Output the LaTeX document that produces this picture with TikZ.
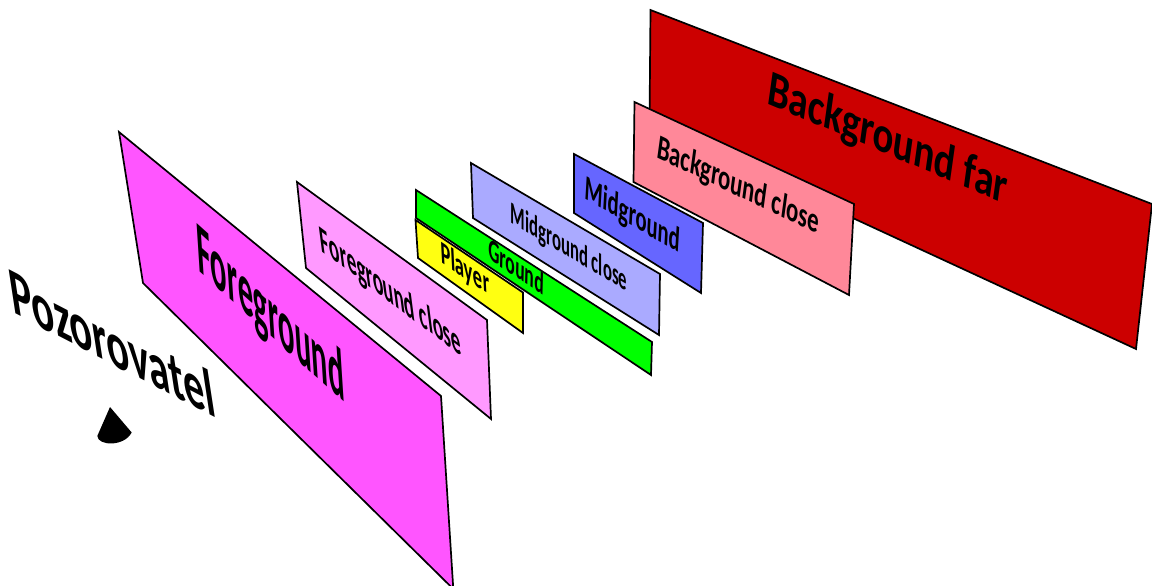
\documentclass[tikz,border=0pt]{standalone}
\usepackage{fontspec}
\setmainfont{Carlito}
\definecolor{farred}{HTML}{CC0000}
\definecolor{closered}{HTML}{FF8899}
\definecolor{midblue}{HTML}{6666FF}
\definecolor{closeblue}{HTML}{AAAAFF}
\definecolor{groundgreen}{HTML}{00FF00}
\definecolor{playeryellow}{HTML}{FFFF11}
\definecolor{closepink}{HTML}{FF99FF}
\definecolor{forepink}{HTML}{FF55FF}
\begin{document}
\begin{tikzpicture}
        [
        x=0.5pt, y=-0.5pt,
        plane/.style={draw=black, line width=0.85pt},
        layername/.style={inner sep=0pt, text height=12.9pt, text depth=0pt, font=\bfseries\fontsize{20}{24}\selectfont}
        ]

        \path[use as bounding box, clip] (0,0) rectangle (1152,585);

        \draw[plane, fill=farred] (650.5,10) -- (1152,204) -- (1136,349) -- (649.5,124) -- cycle;
        \draw[plane, fill=closered] (634.5,102) -- (854,204) -- (849,295) -- (633.5,182) -- cycle;
        \draw[plane, fill=midblue] (574,154) -- (703,223) -- (701,293) -- (574,213) -- cycle;
        \draw[plane, fill=closeblue] (471,163) -- (660,274) -- (659,335) -- (473,218) -- cycle;
        \draw[plane, fill=groundgreen] (416,190) -- (652,342) -- (651,375) -- (416,218) -- cycle;
        \draw[plane, fill=playeryellow] (415.5,220) -- (523,292.5) -- (523,333) -- (418,258) -- cycle;
        \draw[plane, fill=closepink] (297,182) -- (487,320) -- (491,419) -- (306,268) -- cycle;
        \draw[plane, fill=forepink] (119,132) -- (441,396) -- (453.3,589) -- (143,283) -- cycle;

        \fill[black] (110,407) -- (97.3,436) .. controls (98,446) and (124,447) .. (131.7,432.5) -- cycle;

        \node[layername, cm={.95,-.40,.174,1.24,(0,0)}] (far) at (888,137.5) {Background far};
        \node[layername, cm={.557,-.265,.116,.85,(0,0)}] (bgclose) at (738.5,184.5) {Background close};
        \node[layername, cm={.515,-.294,.05,.87,(0,0)}] (mid) at (632.6,214.6) {Midground};
        \node[layername, cm={.418,-.247,0,.78,(0,0)}] (midclose) at (569,247) {Midground close};
        \node[layername, cm={.443,-.292,.02,.78,(0,0)}] (ground) at (516.5,267) {Ground};
        \node[layername, cm={.47,-.31,-.04,.81,(0,0)}] (player) at (465,268.5) {Player};
        \node[layername, cm={.493,-.37,-.128,.99,(0,0)}] (fgclose) at (390.5,291) {Foreground close};
        \node[layername, cm={.77,-.695,-.12,1.87,(0,0)}] (fg) at (270.5,313) {Foreground};
        \node[layername, cm={1.05,-.545,-.26,1.70,(0,0)}] (viewer) at (112,344) {Pozorovatel};

    \end{tikzpicture}
\end{document}
